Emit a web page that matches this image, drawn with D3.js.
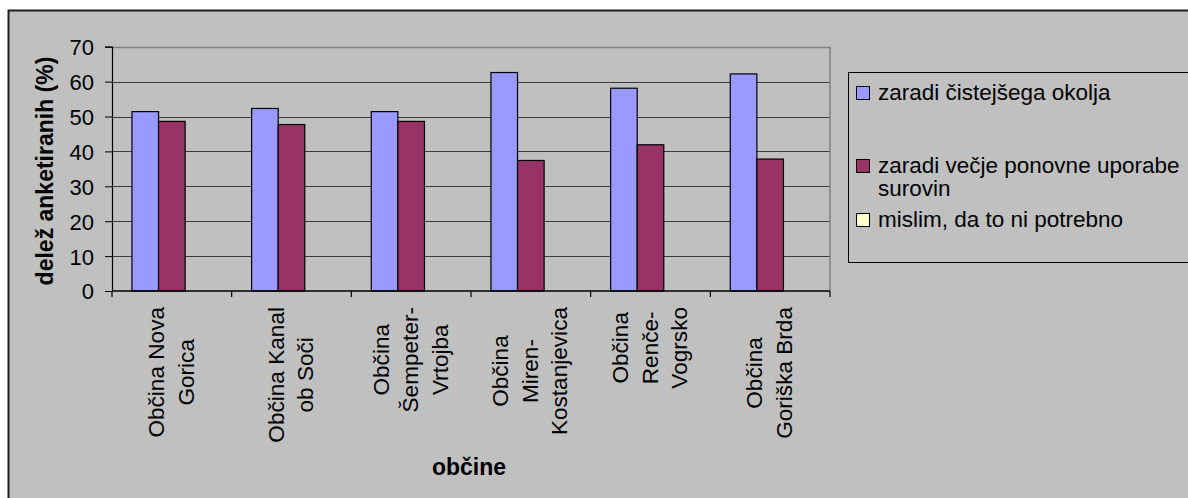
<!DOCTYPE html>
<html>
<head>
<meta charset="utf-8">
<script src="https://cdn.jsdelivr.net/npm/d3@7"></script>
<style>
  html, body { margin: 0; padding: 0; background: #ffffff; }
  svg { display: block; font-family: "Liberation Sans", Arial, sans-serif; }
</style>
</head>
<body>
<svg id="chart" width="1188" height="498"></svg>
<script>
// ---- data ----
const categories = [
  ["Občina Nova", "Gorica"],
  ["Občina Kanal", "ob Soči"],
  ["Občina", "Šempeter-", "Vrtojba"],
  ["Občina", "Miren-", "Kostanjevica"],
  ["Občina", "Renče-", "Vogrsko"],
  ["Občina", "Goriška Brda"]
];
const seriesNames = ["zaradi čistejšega okolja", "zaradi večje ponovne uporabe surovin", "mislim, da to ni potrebno"];
const legendLines = [["zaradi čistejšega okolja"], ["zaradi večje ponovne uporabe", "surovin"], ["mislim, da to ni potrebno"]];
const seriesColors = ["#9999ff", "#993366", "#ffffcc"];
const cleanerEnv = [51.4, 52.3, 51.4, 62.6, 58.1, 62.2];
const reuseMaterials = [48.6, 47.7, 48.6, 37.4, 41.9, 37.8];
const notNeeded = [0, 0, 0, 0, 0, 0];
const yTicks = [0, 10, 20, 30, 40, 50, 60, 70];
const yTitle = "delež anketiranih (%)";
const xTitle = "občine";

const seriesValues = [cleanerEnv, reuseMaterials, notNeeded];

// ---- layout ----
const svg = d3.select("#chart");
const plot = { left: 112, right: 830, top: 46.7, bottom: 291 };

// chart area
svg.append("rect").attr("x", 8.5).attr("y", 10.5).attr("width", 1200).attr("height", 500)
  .attr("fill", "#c0c0c0").attr("stroke", "#1e1e1e").attr("stroke-width", 2);

const catIds = categories.map((c, i) => i);
const x0 = d3.scaleBand().domain(catIds).range([plot.left, plot.right]).padding(0);
const x1 = d3.scaleBand().domain([0, 1, 2]).range([0, x0.bandwidth()]).paddingInner(0).paddingOuter(0.75);
const y = d3.scaleLinear().domain([0, 70]).range([plot.bottom, plot.top]);

// gridlines
svg.append("g").selectAll("line").data(yTicks.filter(t => t > 0)).join("line")
  .attr("x1", plot.left).attr("x2", plot.right)
  .attr("y1", d => Math.round(y(d)) + 0.5).attr("y2", d => Math.round(y(d)) + 0.5)
  .attr("stroke", d => d === 70 ? "#808080" : "#3c3c3c").attr("stroke-width", d => d === 70 ? 1.5 : 1);

// plot area right border
svg.append("line").attr("x1", plot.right).attr("x2", plot.right)
  .attr("y1", y(70)).attr("y2", plot.bottom).attr("stroke", "#808080").attr("stroke-width", 1.5);

// bars
const barData = [];
seriesValues.forEach((vals, s) => vals.forEach((v, c) => { if (v > 0) barData.push({ s, c, v }); }));
svg.append("g").selectAll("rect").data(barData).join("rect")
  .attr("x", d => x0(d.c) + x1(d.s))
  .attr("y", d => y(d.v))
  .attr("width", x1.bandwidth())
  .attr("height", d => y(0) - y(d.v))
  .attr("fill", d => seriesColors[d.s])
  .attr("stroke", "#000").attr("stroke-width", 1.2);

// y axis
const yAxis = d3.axisLeft(y).tickValues(yTicks).tickSize(7).tickPadding(11).tickFormat(d3.format("d"));
const gy = svg.append("g").attr("transform", `translate(${plot.left},0)`).call(yAxis);
gy.select(".domain").attr("stroke", "#000").attr("stroke-width", 1.2);
gy.selectAll(".tick line").attr("stroke", "#000");
gy.selectAll(".tick text").attr("font-size", 22).attr("fill", "#000")
  .attr("font-family", "'Liberation Sans', Arial, sans-serif").attr("dy", "0.36em");

// x axis (ticks at category boundaries)
const boundaries = catIds.map(i => x0(i)).concat([plot.right]);
const gx = svg.append("g");
gx.append("line").attr("x1", plot.left).attr("x2", plot.right)
  .attr("y1", plot.bottom).attr("y2", plot.bottom).attr("stroke", "#000").attr("stroke-width", 1.5);
gx.selectAll("line.tk").data(boundaries).join("line").attr("class", "tk")
  .attr("x1", d => d).attr("x2", d => d)
  .attr("y1", plot.bottom).attr("y2", plot.bottom + 6).attr("stroke", "#000").attr("stroke-width", 1.2);

// x category labels (rotated, lines centered, block top-aligned)
const lineGap = 29.5;
const labelTop = 307;
categories.forEach((lines, i) => {
  const cx = x0(i) + x0.bandwidth() / 2;
  const g = svg.append("g");
  const texts = lines.map((ln, j) => g.append("text")
    .attr("font-size", 22.6).attr("fill", "#000").attr("text-anchor", "middle").text(ln));
  const maxLen = d3.max(texts, t => t.node().getComputedTextLength());
  const cy = labelTop + maxLen / 2;
  texts.forEach((t, j) => {
    const bx = cx + (j - (lines.length - 1) / 2) * lineGap + 7;
    t.attr("transform", `translate(${bx},${cy}) rotate(-90)`);
  });
});

// axis titles
svg.append("text").attr("transform", "translate(53,171) rotate(-90)")
  .attr("text-anchor", "middle").attr("font-size", 23).attr("font-weight", "bold").attr("fill", "#000")
  .text(yTitle);
svg.append("text").attr("x", (plot.left + plot.right) / 2 - 2).attr("y", 475)
  .attr("text-anchor", "middle").attr("font-size", 23).attr("font-weight", "bold").attr("fill", "#000")
  .text(xTitle);

// legend
svg.append("rect").attr("x", 848.5).attr("y", 72.5).attr("width", 400).attr("height", 190)
  .attr("fill", "none").attr("stroke", "#000").attr("stroke-width", 1);
const legendTops = [86, 159, 213];
legendLines.forEach((lines, i) => {
  svg.append("rect").attr("x", 856.5).attr("y", legendTops[i] + 0.5).attr("width", 13).attr("height", 13)
    .attr("fill", seriesColors[i]).attr("stroke", "#000").attr("stroke-width", 1);
  const t = svg.append("text").attr("x", 878).attr("y", legendTops[i] + 13.5)
    .attr("font-size", 22.5).attr("fill", "#000");
  lines.forEach((ln, j) => {
    t.append("tspan").attr("x", 878).attr("dy", j === 0 ? 0 : 23).text(ln);
  });
});
</script>
</body>
</html>
